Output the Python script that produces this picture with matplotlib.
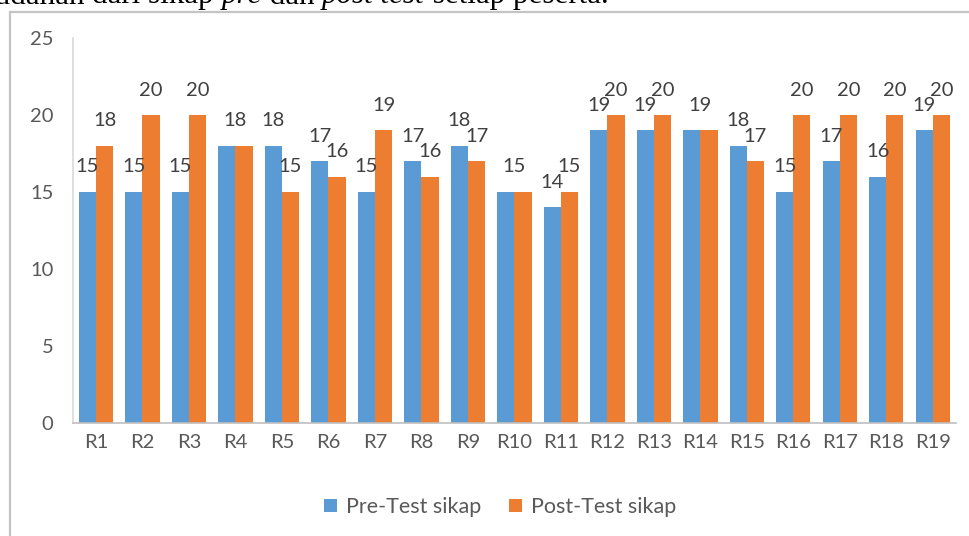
import numpy as np
import matplotlib
matplotlib.use('agg')
import matplotlib.pyplot as plt
from matplotlib.patches import Rectangle
from matplotlib.text import Annotation

categories = ["R%d" % i for i in range(1, 20)]
pre_test = [15, 15, 15, 18, 18, 17, 15, 17, 18, 15, 14, 19, 19, 19, 18, 15, 17, 16, 19]
post_test = [18, 20, 20, 18, 15, 16, 19, 16, 17, 15, 15, 20, 20, 19, 17, 20, 20, 20, 20]
series_names = ["Pre-Test sikap", "Post-Test sikap"]
yticks = [0, 5, 10, 15, 20, 25]

blue = '#5B9BD5'
orange = '#ED7D31'
txt = '#595959'
plt.rcParams['font.family'] = ['Lato', 'DejaVu Sans']

fig = plt.figure(figsize=(9.70, 5.36), dpi=100)
fig.patch.set_facecolor('white')

# chart frame from the document screenshot
fig.patches.append(Rectangle((10.5/970, -0.05), 1.2, 1 - 11.5/536 + 0.05, transform=fig.transFigure,
                             facecolor='none', edgecolor='#c4c4c4', linewidth=1.6, zorder=0))

# cut-off document line above the chart
parts = [("dari sikap ", 'normal'), ("pre", 'italic'), (" dan ", 'normal'),
         ("post test", 'italic'), (" setiap peserta.", 'normal')]
serif = dict(family='Liberation Serif', fontsize=22.3, color='black')
t0 = fig.text(92/970, 1 - 10.5/536, "kemudahan ", va='bottom', ha='right', **serif)
for s, st in parts:
    t0 = fig.add_artist(Annotation(s, xy=(1, 0), xycoords=t0, va='bottom', ha='left', style=st, **serif))

ax = fig.add_axes([72.75/970, 1 - 423/536, (956 - 72.75)/970, (423 - 38)/536])
x = np.arange(len(categories))
w = 0.37
b1 = ax.bar(x - w/2, pre_test, w, color=blue, label=series_names[0], zorder=2)
b2 = ax.bar(x + w/2, post_test, w, color=orange, label=series_names[1], zorder=2)

# data labels; an equal pair shows a single label at the group centre, as in the original
for i in range(len(categories)):
    if pre_test[i] == post_test[i]:
        ax.annotate(str(pre_test[i]), (x[i], pre_test[i]), xytext=(0, 18), textcoords='offset points',
                    ha='center', va='center', fontsize=14.5, color='#404040')
        continue
    for r, v in ((b1[i], pre_test[i]), (b2[i], post_test[i])):
        ax.annotate(str(v), (r.get_x() + r.get_width()/2, v), xytext=(0, 18), textcoords='offset points',
                    ha='center', va='center', fontsize=14.5, color='#404040')

ax.set_xlim(-0.5, len(categories) - 0.5)
ax.set_ylim(0, 25)
ax.set_yticks(yticks)
ax.set_xticks(x)
ax.set_xticklabels(categories)
ax.tick_params(axis='both', length=0, labelsize=14.5, colors=txt)
ax.tick_params(axis='y', pad=14)
ax.tick_params(axis='x', pad=8)
for side in ['top', 'right']:
    ax.spines[side].set_visible(False)
ax.spines['left'].set_color('#d9d9d9')
ax.spines['bottom'].set_color('#bfbfbf')
ax.spines['left'].set_linewidth(1.2)
ax.spines['bottom'].set_linewidth(1.2)

leg = fig.legend(handles=[b1, b2], loc='center', bbox_to_anchor=(500/970, 1 - 507/536), ncol=2,
                 frameon=False, fontsize=15.5, handlelength=0.6, handleheight=0.6, handletextpad=0.4,
                 columnspacing=1.3)
for t in leg.get_texts():
    t.set_color(txt)

fig.savefig('out.png', dpi=100, facecolor='white')
